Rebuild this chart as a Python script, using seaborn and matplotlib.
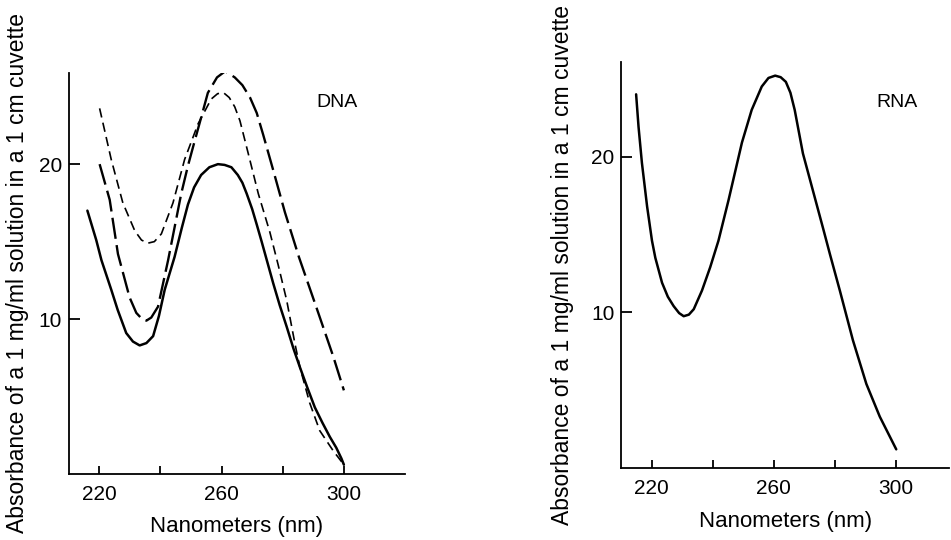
import matplotlib
matplotlib.use("Agg")
import matplotlib.pyplot as plt
import seaborn as sns

# ---------------- data ----------------
dna_solid_nm = [216.1, 219.0, 220.7, 223.9, 226.0, 228.8, 231.0, 233.2, 235.4, 237.6,
                239.5, 241.4, 244.6, 247.0, 249.0, 251.0, 253.3, 256.0, 258.8, 261.0,
                263.2, 265.3, 266.8, 268.2, 270.0, 271.5, 273.1, 276.9, 279.0, 281.3,
                283.5, 285.6, 288.0, 290.5, 293.0, 295.4, 297.5, 299.2, 300.0]
dna_solid_abs = [17.0, 15.1, 13.8, 11.9, 10.6, 9.1, 8.55, 8.3, 8.45, 8.9,
                 10.2, 11.9, 14.0, 15.9, 17.4, 18.5, 19.3, 19.8, 20.0, 19.95,
                 19.8, 19.3, 18.8, 18.1, 17.1, 16.1, 15.0, 12.3, 10.9, 9.5,
                 8.1, 6.9, 5.6, 4.3, 3.3, 2.4, 1.7, 1.0, 0.6]

dna_long_nm = [220.1, 223.4, 226.1, 229.9, 232.1, 234.0, 235.4, 237.0, 239.2, 242.5,
               244.6, 246.8, 249.0, 251.2, 253.3, 255.5, 258.5, 261.2, 264.3, 266.8,
               269.3, 271.5, 273.6, 276.9, 280.7, 285.3, 291.1, 296.5, 300.0]
dna_long_abs = [20.0, 17.7, 14.2, 11.4, 10.4, 10.0, 9.9, 10.1, 10.8, 13.8,
                15.9, 18.1, 19.9, 21.5, 23.0, 24.6, 25.6, 26.0, 25.6, 25.1,
                24.3, 23.3, 21.9, 19.6, 16.9, 14.0, 10.7, 7.6, 5.4]

dna_short_nm = [220.1, 223.9, 227.7, 231.6, 233.8, 235.9, 238.0, 240.3, 244.1, 247.9,
                252.3, 256.6, 258.7, 260.7, 262.5, 264.3, 266.0, 268.7, 272.0, 275.8,
                278.5, 281.3, 284.0, 285.6, 288.8, 292.1, 296.5, 300.0]
dna_short_abs = [23.6, 20.3, 17.5, 15.7, 15.1, 14.9, 15.0, 15.5, 17.5, 20.3,
                 22.6, 24.2, 24.55, 24.6, 24.3, 23.7, 22.8, 20.7, 18.1, 15.6,
                 13.5, 11.2, 8.4, 6.9, 4.6, 2.8, 1.5, 0.6]

rna_nm = [214.9, 215.7, 216.8, 218.5, 220.1, 221.2, 223.4, 225.3, 227.2, 229.0,
          230.5, 232.2, 233.8, 236.5, 239.2, 241.9, 245.2, 249.6, 252.8, 256.1,
          258.3, 260.5, 262.3, 264.0, 265.5, 266.9, 269.6, 272.9, 276.2, 278.5,
          281.7, 286.0, 290.4, 294.8, 300.2]
rna_abs = [24.0, 21.9, 19.6, 16.8, 14.6, 13.5, 11.9, 11.0, 10.4, 9.95,
           9.75, 9.85, 10.2, 11.4, 12.9, 14.6, 17.2, 20.9, 23.0, 24.5,
           25.05, 25.2, 25.1, 24.8, 24.1, 23.0, 20.2, 17.8, 15.4, 13.7,
           11.4, 8.2, 5.4, 3.3, 1.2]

x_ticks = [220, 240, 260, 280, 300]
x_tick_labels = ["220", "", "260", "", "300"]
y_ticks = [10, 20]
y_tick_labels = ["10", "20"]

y_label = "Absorbance of a 1 mg/ml solution in a 1 cm cuvette"
x_label = "Nanometers (nm)"
panel_names = ["DNA", "RNA"]

# ---------------- style ----------------
sns.set_style("ticks")
plt.rcParams["font.family"] = ["Liberation Sans", "DejaVu Sans"]
plt.rcParams["text.color"] = "black"
plt.rcParams["lines.solid_joinstyle"] = "round"
plt.rcParams["lines.dash_joinstyle"] = "round"

fig = plt.figure(figsize=(9.51, 5.4), dpi=100)
fig.patch.set_facecolor("white")

ax1 = fig.add_axes([0.0726, 0.1222, 0.3533, 0.7431])
ax2 = fig.add_axes([0.6535, 0.1333, 0.3444, 0.7526])

# DNA panel
sns.lineplot(x=dna_solid_nm, y=dna_solid_abs, ax=ax1, color="black", lw=1.8,
             sort=False, estimator=None)
sns.lineplot(x=dna_long_nm, y=dna_long_abs, ax=ax1, color="black", lw=1.7,
             sort=False, estimator=None, linestyle=(0, (9.0, 2.7)))
sns.lineplot(x=dna_short_nm, y=dna_short_abs, ax=ax1, color="black", lw=1.2,
             sort=False, estimator=None, linestyle=(0, (5.6, 3.2)))

# RNA panel
sns.lineplot(x=rna_nm, y=rna_abs, ax=ax2, color="black", lw=1.8,
             sort=False, estimator=None)

ax1.set_xlim(210.1, 320)
ax1.set_ylim(0, 25.9)
ax2.set_xlim(210.1, 317.5)
ax2.set_ylim(0, 26.1)

for ax, name, lx, ly, ylx in [(ax1, panel_names[0], 291.0, 24.0, -0.120),
                              (ax2, panel_names[1], 293.7, 23.5, -0.145)]:
    ax.set_facecolor("white")
    for s in ["top", "right"]:
        ax.spines[s].set_visible(False)
    for s in ["left", "bottom"]:
        ax.spines[s].set_linewidth(1.3)
        ax.spines[s].set_color("black")
    ax.set_xticks(x_ticks)
    ax.set_xticklabels(x_tick_labels)
    ax.set_yticks(y_ticks)
    ax.set_yticklabels(y_tick_labels)
    ax.tick_params(axis="x", direction="in", length=6, width=1.3, pad=8,
                   labelsize=15, colors="black")
    ax.tick_params(axis="y", direction="in", length=8, width=1.3, pad=5,
                   labelsize=15, colors="black")
    ax.set_xlabel(x_label, fontsize=16, color="black")
    ax.set_ylabel(y_label, fontsize=16.5, color="black")
    ax.xaxis.set_label_coords(0.5, -0.105)
    ax.yaxis.set_label_coords(ylx, 0.5)
    ax.text(lx, ly, name, ha="left", va="center", fontsize=14, color="black")

fig.savefig("out.png", dpi=100, facecolor="white")
